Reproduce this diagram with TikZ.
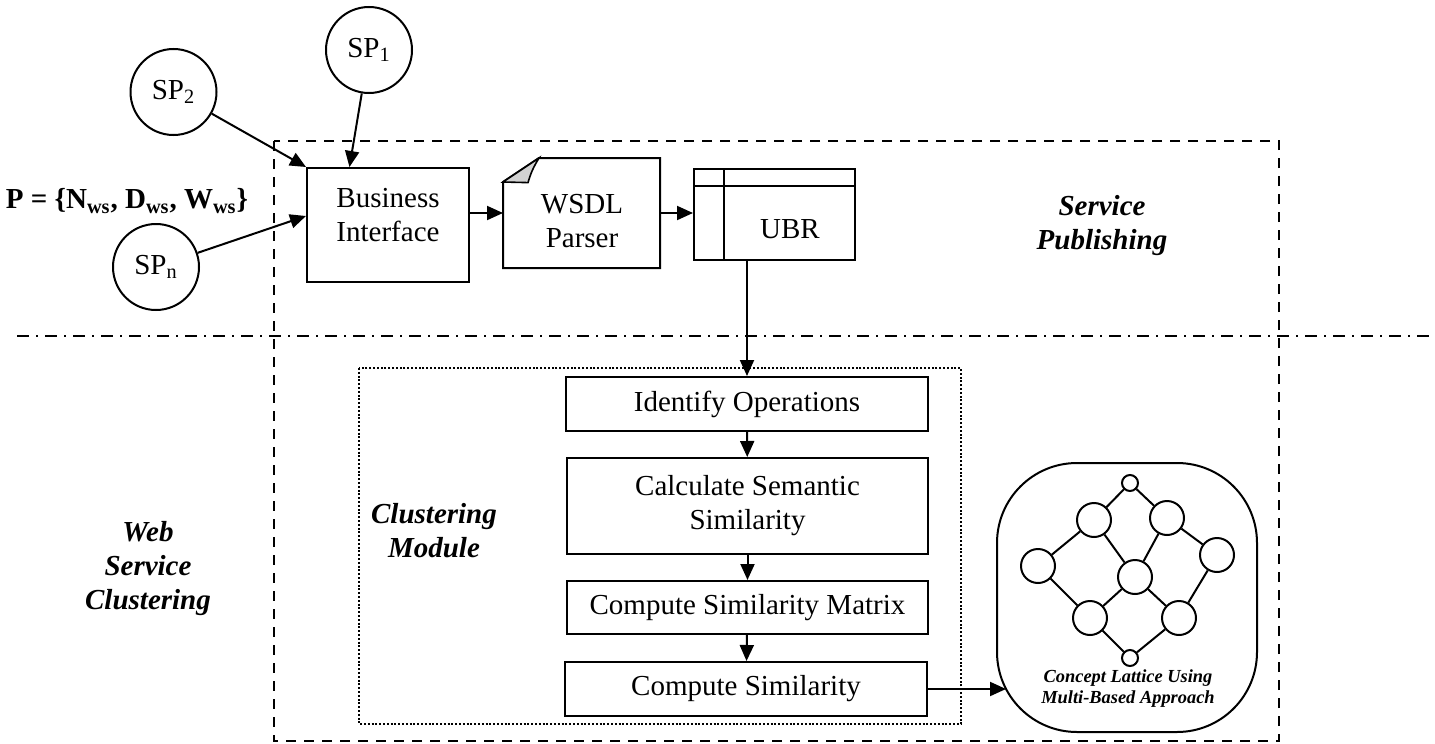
\documentclass[tikz,border=0pt]{standalone}
\usepackage{fontspec}
\setmainfont{Liberation Serif}
\usetikzlibrary{arrows.meta,calc}
\begin{document}
\begin{tikzpicture}[x=0.5pt,y=-0.5pt, line width=1pt,
  font=\fontsize{14.5}{17}\selectfont,
  arr/.style={-{Triangle[length=8pt,width=7pt]}},
  box/.style={draw, rectangle, inner sep=0pt, align=center},
  spnode/.style={draw, circle, minimum size=43pt, inner sep=0pt},
  lnode/.style={draw, circle, minimum size=17pt, inner sep=0pt},
  snode/.style={draw, circle, minimum size=8pt, inner sep=0pt},
  region/.style={font=\fontsize{14.5}{17}\selectfont\bfseries\itshape, align=center, inner sep=0pt},
  lbl/.style={align=center, inner sep=0pt},
  outerdash/.style={line width=1.1pt, dash pattern=on 5pt off 4pt},
  dashdot/.style={line width=1.1pt, dash pattern=on 6pt off 3.5pt on 1pt off 3.5pt},
  dotbox/.style={line width=1.1pt, dash pattern=on 1pt off 0.9pt}]
\useasboundingbox (0,0) rectangle (1435,744);

% frames
\draw[outerdash] (274,141) rectangle (1279,741);
\coordinate (dl) at (17,336);
\coordinate (dr) at (1435,336);
\draw[dashdot] (dl) -- (dr);
\draw[dotbox] (359,368) rectangle (961,724);

% providers
\node[spnode] (sp1) at (369,50) {SP\textsubscript{1}};
\node[spnode] (sp2) at (173.5,92) {SP\textsubscript{2}};
\node[spnode] (spn) at (156,267) {SP\textsubscript{n}};
\node[font=\fontsize{14.5}{17}\selectfont\bfseries, inner sep=0pt] (p) at (127,201)
  {P = \{N\textsubscript{ws}, D\textsubscript{ws}, W\textsubscript{ws}\}};

% business interface
\node[box, minimum width=81pt, minimum height=57pt] (bi) at (388,225) {};
\node[lbl] (bit) at (388,215) {Business\\Interface};

% WSDL parser (document with folded corner)
\node[minimum width=77.5pt, minimum height=54pt, inner sep=0pt] (wsdl) at (581.5,213) {};
\coordinate (fa) at ([yshift=-12pt]wsdl.north west);
\coordinate (fb) at ([xshift=18pt]wsdl.north west);
\coordinate (fc) at ([xshift=12.5pt,yshift=-12.3pt]wsdl.north west);
\draw (wsdl.south west) -- (fa) -- (fb) -- (wsdl.north east) -- (wsdl.south east) -- cycle;
\filldraw[fill=gray!35, line width=0.8pt] (fa) -- (fb) .. controls +(-3pt,-5pt) and +(1.5pt,5pt) .. (fc) -- cycle;
\node[lbl] (wsdlt) at (582,221) {WSDL\\Parser};

% UBR
\node[box, minimum width=80.5pt, minimum height=45.5pt] (ubr) at (774.5,214.5) {};
\draw ([xshift=15.5pt]ubr.north west) -- ([xshift=15.5pt]ubr.south west);
\draw ([yshift=-9pt]ubr.north west) -- ([yshift=-9pt]ubr.north east);
\node[lbl] (ubrt) at (790,229) {UBR};

% clustering steps
\node[box, minimum width=181pt, minimum height=27pt] (io) at (747,404) {Identify Operations};
\node[box, minimum width=180.5pt, minimum height=48pt] (css) at (747.5,506) {Calculate Semantic\\Similarity};
\node[box, minimum width=180.5pt, minimum height=26.5pt] (csm) at (747.5,607.5) {Compute Similarity Matrix};
\node[box, minimum width=181pt, minimum height=27pt] (cs) at (746,689) {Compute Similarity};

% concept lattice
\node[draw, rounded corners=40pt, minimum width=130pt, minimum height=134.5pt, inner sep=0pt] (lat) at (1127,597.5) {};
\node[snode] (lt) at (1130,483) {};
\node[lnode] (l1) at (1094,520) {};
\node[lnode] (l2) at (1167,518) {};
\node[lnode] (lf) at (1038,566) {};
\node[lnode] (lr) at (1217,555) {};
\node[lnode] (lc) at (1135,577) {};
\node[lnode] (ll) at (1090,618) {};
\node[lnode] (lw) at (1179,618) {};
\node[snode] (lb) at (1130,658) {};
\draw (lt) -- (l1);
\draw (lt) -- (l2);
\draw (l1) -- (lf);
\draw (l1) -- (lc);
\draw (l2) -- (lc);
\draw (l2) -- (lr);
\draw (lf) -- (ll);
\draw (lc) -- (ll);
\draw (lc) -- (lw);
\draw (lr) -- (lw);
\draw (ll) -- (lb);
\draw (lw) -- (lb);
\node[region, font=\fontsize{9.2}{10.5}\selectfont\bfseries\itshape] (latt) at (1128,689)
  {Concept Lattice Using\\Multi-Based Approach};

% region labels
\node[region] (spub) at (1102,226) {Service\\Publishing};
\node[region] (wsc) at (148,569) {Web\\Service\\Clustering};
\node[region] (cm) at (434,531) {Clustering\\Module};

% connectors
\draw[arr] (sp1) -- ($(bi.north west)!0.265!(bi.north east)$);
\draw[arr] (sp2) -- (bi.north west);
\draw[arr] (spn) -- ([yshift=4.5pt]bi.west);
\draw[arr] (bi.east |- wsdl.west) -- (wsdl.west);
\draw[arr] (wsdl.east) -- (wsdl.east -| ubr.west);
\draw[arr] (ubr.south -| io.north) -- (io.north);
\draw[arr] (io) -- (css);
\draw[arr] (css) -- (csm);
\draw[arr] (csm) -- (cs);
\coordinate (latin) at (1006,689);
\draw[arr] (cs.east) -- (latin);
\end{tikzpicture}
\end{document}
